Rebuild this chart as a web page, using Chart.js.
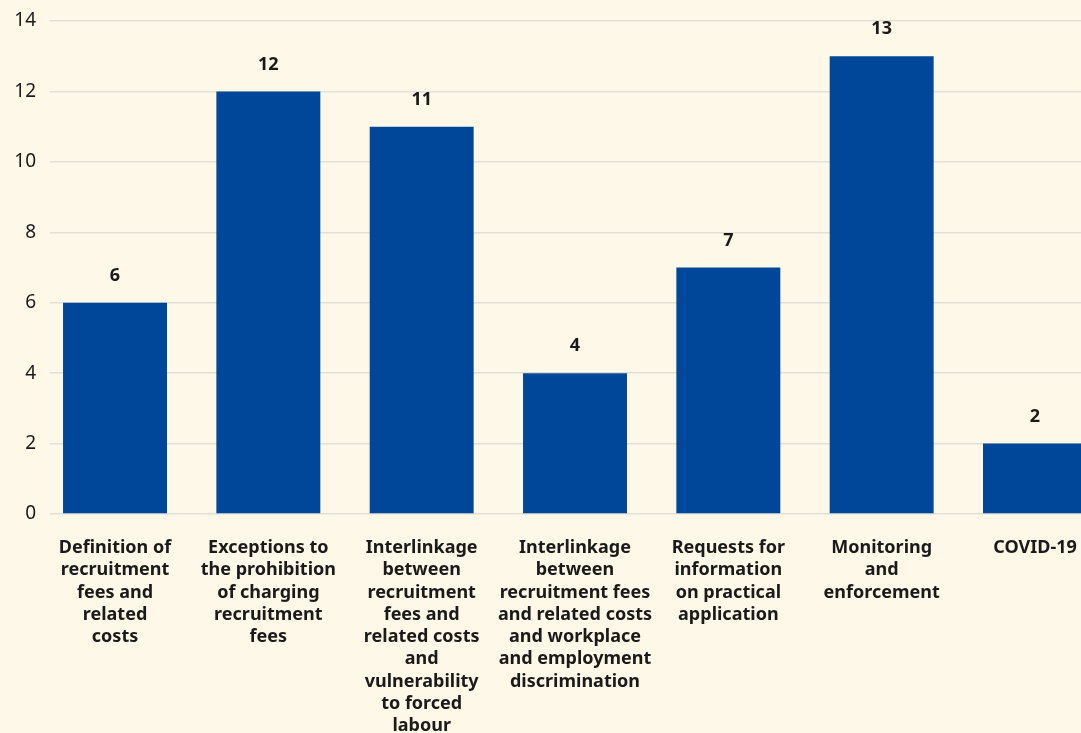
<!DOCTYPE html>
<html>
<head>
<meta charset="utf-8">
<script src="https://cdn.jsdelivr.net/npm/chart.js@4/dist/chart.umd.min.js"></script>
<style>
  html, body { margin: 0; padding: 0; background: #fef8e8; overflow: hidden; }
  #wrap { width: 1081px; height: 733px; position: relative; }
</style>
</head>
<body>
<div id="wrap"><canvas id="chart"></canvas></div>
<script>
// categories (already split into lines as shown under the bars)
const categories = [
  ['Definition of', 'recruitment', 'fees and', 'related', 'costs'],
  ['Exceptions to', 'the prohibition', 'of charging', 'recruitment', 'fees'],
  ['Interlinkage', 'between', 'recruitment', 'fees and', 'related costs', 'and', 'vulnerability', 'to forced', 'labour'],
  ['Interlinkage', 'between', 'recruitment fees', 'and related costs', 'and workplace', 'and employment', 'discrimination'],
  ['Requests for', 'information', 'on practical', 'application'],
  ['Monitoring', 'and', 'enforcement'],
  ['COVID-19']
];
const values = [6, 12, 11, 4, 7, 13, 2];
const yTicks = [0, 2, 4, 6, 8, 10, 12, 14];

const barColor = '#00479a';
const gridColor = '#e2dfd8';
const textColor = '#1a1a1a';

// simple value labels above each bar
const valueLabels = {
  id: 'valueLabels',
  afterDatasetsDraw(chart) {
    const ctx = chart.ctx;
    const meta = chart.getDatasetMeta(0);
    ctx.save();
    ctx.font = 'bold 18px "Noto Sans"';
    ctx.fillStyle = textColor;
    ctx.textAlign = 'center';
    ctx.textBaseline = 'middle';
    meta.data.forEach((bar, i) => {
      ctx.fillText(String(values[i]), bar.x, bar.y - 27);
    });
    ctx.restore();
  }
};

const ctx = document.getElementById('chart').getContext('2d');
new Chart(ctx, {
  type: 'bar',
  data: {
    datasets: [{
      data: values.map((v, i) => ({ x: i, y: v })),
      backgroundColor: barColor,
      barPercentage: 1,
      categoryPercentage: 0.678
    }]
  },
  options: {
    responsive: true,
    maintainAspectRatio: false,
    animation: false,
    layout: { padding: { top: 21, left: 0, right: 0, bottom: 0 } },
    plugins: {
      legend: { display: false },
      tooltip: { enabled: false }
    },
    scales: {
      x: {
        type: 'linear',
        offset: false,
        min: -0.424,
        max: 6.3,
        grid: { display: false, drawTicks: false },
        border: { display: false },
        ticks: {
          stepSize: 1,
          includeBounds: false,
          autoSkip: false,
          maxRotation: 0,
          minRotation: 0,
          padding: 23,
          color: textColor,
          font: { family: 'Noto Sans', size: 18, weight: 'bold', lineHeight: 1.236 },
          callback: v => Number.isInteger(v) && categories[v] ? categories[v] : ''
        },
        afterFit: s => { s.height = 219; s.paddingLeft = 0; s.paddingRight = 0; }
      },
      y: {
        min: 0,
        max: 14,
        afterBuildTicks: s => { s.ticks = yTicks.map(v => ({ value: v })); },
        grid: { color: gridColor, lineWidth: 1.5, drawTicks: false },
        border: { display: false },
        ticks: {
          padding: 14,
          color: textColor,
          font: { family: 'Noto Sans', size: 19 }
        },
        afterFit: s => { s.width = 50; s.paddingTop = 0; s.paddingBottom = 0; }
      }
    }
  },
  plugins: [valueLabels]
});
</script>
</body>
</html>
